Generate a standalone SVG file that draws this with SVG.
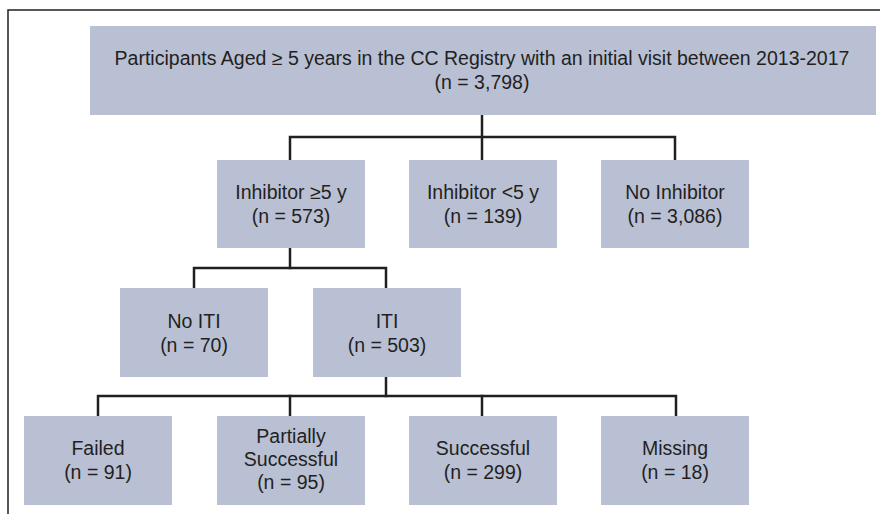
<svg xmlns="http://www.w3.org/2000/svg" width="880" height="514" viewBox="0 0 880 514">
<style>
.box{fill:#b9c0d4}
.t{font-family:"Liberation Sans",Arial,sans-serif;font-size:19.5px;fill:#231f20;text-anchor:middle}
.c{fill:none;stroke:#231f20;stroke-width:2.5;stroke-linecap:square}
.frame{fill:none;stroke:#231f20;stroke-width:1.5}
</style>
<rect width="880" height="514" fill="#ffffff"/>
<path class="frame" d="M8,514 V10 H880"/>
<g id="connectors">
<path class="c" d="M482,115 V160"/>
<path class="c" d="M290,160 V137 H675 V160"/>
<path class="c" d="M290,248 V268"/>
<path class="c" d="M194,288 V268 H386 V288"/>
<path class="c" d="M386,377 V396"/>
<path class="c" d="M98,416 V396 H676 V416"/>
<path class="c" d="M290,396 V416"/>
<path class="c" d="M482,396 V416"/>
</g>
<g id="n_root">
<rect class="box" x="90" y="26" width="786" height="89"/>
<text class="t" x="482" y="65">Participants Aged ≥ 5 years in the CC Registry with an initial visit between 2013-2017</text>
<text class="t" x="482" y="89">(n = 3,798)</text>
</g>
<g id="n_inh5plus">
<rect class="box" x="217" y="160" width="148" height="88"/>
<text class="t" x="291" y="199">Inhibitor ≥5 y</text>
<text class="t" x="291" y="223">(n = 573)</text>
</g>
<g id="n_inh5minus">
<rect class="box" x="409" y="160" width="148" height="88"/>
<text class="t" x="483" y="199">Inhibitor &lt;5 y</text>
<text class="t" x="483" y="223">(n = 139)</text>
</g>
<g id="n_noinh">
<rect class="box" x="601" y="160" width="148" height="88"/>
<text class="t" x="675" y="199">No Inhibitor</text>
<text class="t" x="675" y="223">(n = 3,086)</text>
</g>
<g id="n_noiti">
<rect class="box" x="120" y="288" width="148" height="89"/>
<text class="t" x="194" y="328">No ITI</text>
<text class="t" x="194" y="352">(n = 70)</text>
</g>
<g id="n_iti">
<rect class="box" x="313" y="288" width="148" height="89"/>
<text class="t" x="387" y="328">ITI</text>
<text class="t" x="387" y="352">(n = 503)</text>
</g>
<g id="n_failed">
<rect class="box" x="24" y="416" width="148" height="89"/>
<text class="t" x="98" y="455">Failed</text>
<text class="t" x="98" y="479">(n = 91)</text>
</g>
<g id="n_partial">
<rect class="box" x="217" y="416" width="148" height="89"/>
<text class="t" x="291" y="443">Partially</text>
<text class="t" x="291" y="466">Successful</text>
<text class="t" x="291" y="489">(n = 95)</text>
</g>
<g id="n_success">
<rect class="box" x="409" y="416" width="148" height="89"/>
<text class="t" x="483" y="455">Successful</text>
<text class="t" x="483" y="479">(n = 299)</text>
</g>
<g id="n_missing">
<rect class="box" x="601" y="416" width="148" height="89"/>
<text class="t" x="675" y="455">Missing</text>
<text class="t" x="675" y="479">(n = 18)</text>
</g>
</svg>
